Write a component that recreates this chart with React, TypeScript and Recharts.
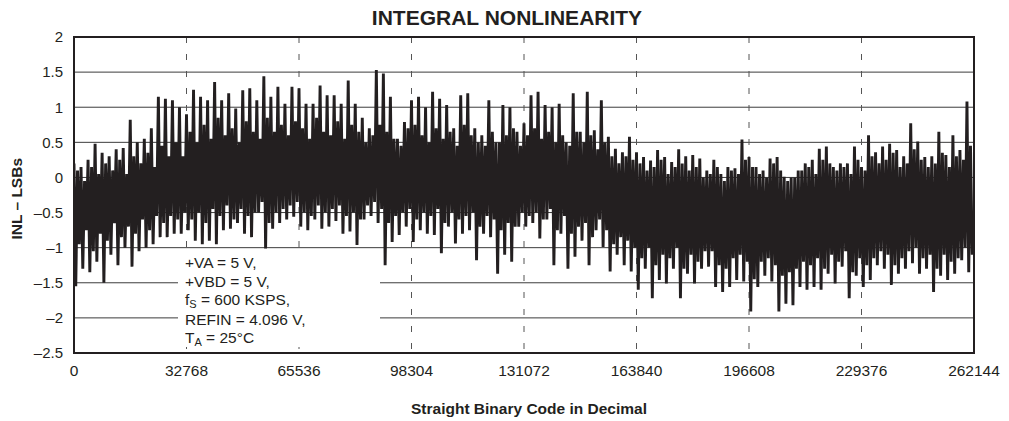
import { ComposedChart, Line, XAxis, YAxis, CartesianGrid } from "recharts";

const codeTicks = [0, 32768, 65536, 98304, 131072, 163840, 196608, 229376, 262144];
const inlTicks = [-2.5, -2, -1.5, -1, -0.5, 0, 0.5, 1, 1.5, 2];

// tallest upward / downward INL excursion in each 2048-code bin
const inlHigh = [
  0.2, 0.15, 0.25, 0.48, 0.35, 0.3, 0.4, 0.42, 0.82, 0.5, 0.55, 0.7, 1.15, 1.12, 1.1, 1.0,
  0.9, 1.25, 1.15, 1.1, 1.36, 1.1, 1.2, 0.98, 1.24, 1.27, 1.1, 1.44, 1.15, 1.29, 1.05, 1.29,
  1.27, 1.05, 1.05, 1.31, 1.17, 1.17, 1.05, 1.38, 1.05, 0.85, 0.7, 1.53, 1.48, 1.15, 0.55, 0.79,
  1.1, 1.15, 1.0, 1.22, 1.12, 1.03, 0.7, 1.17, 1.2, 0.7, 0.6, 1.1, 0.5, 1.03, 1.0, 0.65,
  0.77, 1.17, 1.22, 1.03, 1.0, 1.05, 0.5, 1.2, 0.65, 1.22, 0.67, 1.1, 0.58, 0.41, 0.36, 0.58,
  0.36, 0.29, 0.24, 0.39, 0.29, 0.22, 0.4, 0.3, 0.32, 0.27, 0.1, 0.25, 0.05, 0.15, 0.13, 0.54,
  0.29, 0.15, 0.1, 0.27, 0.29, 0.01, 0.0, 0.1, 0.2, 0.25, 0.41, 0.44, 0.15, 0.2, 0.2, 0.44,
  0.15, 0.6, 0.36, 0.44, 0.48, 0.39, 0.3, 0.77, 0.51, 0.29, 0.3, 0.65, 0.32, 0.6, 0.39, 1.08,
];
const inlLow = [
  -1.55, -1.3, -1.35, -1.2, -1.5, -1.1, -1.25, -1.0, -1.27, -1.05, -1.0, -0.95, -0.85, -0.85, -0.8, -0.8,
  -0.75, -0.9, -0.95, -0.9, -0.95, -0.75, -0.73, -0.65, -0.8, -0.85, -0.5, -1.01, -0.73, -0.65, -0.6, -0.56,
  -0.7, -0.75, -0.6, -0.73, -0.7, -0.62, -0.8, -0.77, -0.96, -0.6, -0.55, -0.65, -1.25, -0.92, -0.82, -0.7,
  -0.92, -0.75, -0.8, -0.82, -1.08, -0.7, -0.94, -0.8, -0.75, -1.18, -0.8, -0.85, -1.37, -1.1, -1.2, -0.7,
  -0.7, -0.65, -0.87, -0.6, -1.25, -0.8, -1.3, -1.13, -0.9, -1.25, -0.75, -0.99, -1.34, -1.1, -1.25, -1.34,
  -1.6, -1.3, -1.72, -1.46, -1.51, -1.3, -1.72, -1.37, -1.51, -1.3, -1.27, -1.56, -1.63, -1.56, -1.46, -1.48,
  -1.91, -1.56, -1.4, -1.48, -1.91, -1.8, -1.82, -1.56, -1.6, -1.56, -1.6, -1.37, -1.51, -1.27, -1.72, -1.4,
  -1.56, -1.46, -1.25, -1.3, -1.53, -1.37, -1.3, -1.22, -1.37, -1.3, -1.63, -1.4, -1.46, -1.37, -1.18, -1.35,
];

// smaller excursions in the same bins (edge of the solid mass of the trace)
const inlHigh2 = [
  0.1, -0.05, 0.15, 0.05, 0.2, 0.1, 0.25, 0.05, 0.3, 0.2, 0.35, 0.15, 0.45, 0.3, 0.5, 0.3,
  0.65, 0.5, 0.75, 0.55, 0.85, 0.6, 0.7, 0.5, 0.8, 0.65, 0.55, 0.85, 0.65, 0.75, 0.6, 0.8,
  0.7, 0.55, 0.85, 0.65, 0.6, 0.8, 0.55, 0.75, 0.65, 0.5, 0.6, 0.75, 0.65, 0.55, 0.45, 0.7,
  0.75, 0.6, 0.5, 0.7, 0.55, 0.65, 0.45, 0.75, 0.6, 0.5, 0.45, 0.65, 0.5, 0.6, 0.7, 0.45,
  0.6, 0.7, 0.55, 0.65, 0.5, 0.6, 0.45, 0.65, 0.5, 0.6, 0.4, 0.5, 0.3, 0.2, 0.3, 0.25,
  0.2, 0.1, 0.15, 0.25, 0.05, 0.15, 0.2, 0.1, 0.15, 0.0, 0.05, 0.15, -0.05, 0.1, 0.05, 0.25,
  0.15, 0.05, 0.0, 0.2, 0.1, -0.05, 0.0, 0.1, 0.15, 0.05, 0.25, 0.2, 0.1, 0.15, 0.05, 0.25,
  0.1, 0.3, 0.2, 0.25, 0.35, 0.15, 0.2, 0.4, 0.25, 0.15, 0.2, 0.35, 0.15, 0.3, 0.25, 0.45,
];
const inlLow2 = [
  -0.95, -0.75, -1.05, -0.8, -0.9, -0.65, -0.85, -0.7, -0.8, -0.6, -0.75, -0.55, -0.65, -0.55, -0.6, -0.5,
  -0.6, -0.5, -0.65, -0.45, -0.55, -0.4, -0.6, -0.45, -0.55, -0.5, -0.35, -0.65, -0.5, -0.45, -0.4, -0.35,
  -0.5, -0.55, -0.4, -0.5, -0.45, -0.4, -0.55, -0.5, -0.6, -0.4, -0.35, -0.45, -0.65, -0.55, -0.5, -0.45,
  -0.6, -0.5, -0.55, -0.45, -0.65, -0.5, -0.6, -0.55, -0.5, -0.7, -0.55, -0.6, -0.75, -0.65, -0.7, -0.5,
  -0.55, -0.5, -0.6, -0.45, -0.75, -0.55, -0.8, -0.7, -0.65, -0.85, -0.6, -0.75, -0.95, -0.85, -0.9, -1.0,
  -1.15, -1.0, -1.25, -1.1, -1.15, -1.0, -1.3, -1.1, -1.2, -1.05, -1.05, -1.25, -1.3, -1.15, -1.1, -1.2,
  -1.45, -1.2, -1.15, -1.25, -1.4, -1.35, -1.3, -1.2, -1.25, -1.15, -1.3, -1.1, -1.2, -1.05, -1.35, -1.15,
  -1.25, -1.15, -1.05, -1.1, -1.25, -1.15, -1.05, -1.0, -1.15, -1.1, -1.3, -1.1, -1.2, -1.15, -1.0, -1.1,
];

const BIN = 2048;

const traceRows = inlHigh.flatMap((hi, i) => [
  { code: i * BIN, inl: hi },
  { code: i * BIN + BIN / 4, inl: inlLow[i] },
  { code: i * BIN + BIN / 2, inl: inlHigh2[i] },
  { code: i * BIN + (3 * BIN) / 4, inl: inlLow2[i] },
]);

const ink = "#231f20";
const font = '"Liberation Sans", Arial, Helvetica, sans-serif';
const dash = (v: number) => String(v).replace("-", "\u2013");

export default function App() {
  return (
    <div
      style={{
        position: "absolute",
        left: 0,
        top: 0,
        width: 1009,
        height: 421,
        background: "#fff",
        fontFamily: font,
        color: ink,
        overflow: "hidden",
      }}
    >
      <ComposedChart width={1009} height={421} data={traceRows} margin={{ top: 37, right: 35, bottom: 0, left: 0 }}>
        <CartesianGrid vertical={false} stroke="#3c3c3c" strokeWidth={1} />
        <CartesianGrid horizontal={false} stroke="#555" strokeDasharray="6 11" />
        <XAxis
          type="number"
          dataKey="code"
          domain={[0, 262144]}
          ticks={codeTicks}
          interval={0}
          height={68}
          axisLine={false}
          tickLine={false}
          tickSize={6}
          tickMargin={6}
          tick={{ fill: ink, fontSize: 15.5, fontFamily: font }}
          allowDataOverflow
        />
        <YAxis
          type="number"
          domain={[-2.5, 2]}
          ticks={inlTicks}
          interval={0}
          width={74}
          axisLine={false}
          tickLine={false}
          tickSize={6}
          tickMargin={5}
          tickFormatter={dash}
          tick={{ fill: ink, fontSize: 15, fontFamily: font }}
          allowDataOverflow
        />
        <Line
          dataKey="inl"
          type="linear"
          stroke={ink}
          strokeWidth={2.9}
          strokeLinejoin="bevel"
          dot={false}
          isAnimationActive={false}
        />
      </ComposedChart>

      {/* plot frame */}
      <div
        style={{
          position: "absolute",
          left: 73,
          top: 36,
          width: 902,
          height: 318,
          border: `2px solid ${ink}`,
          boxSizing: "border-box",
          pointerEvents: "none",
        }}
      />

      {/* test conditions */}
      <div style={{ position: "absolute", left: 178, top: 256, width: 202, height: 91, background: "#fff" }}>
        <div
          style={{
            position: "absolute",
            left: 7,
            top: -1.6,
            fontSize: 15.5,
            lineHeight: "18.5px",
            whiteSpace: "nowrap",
          }}
        >
          <div>+VA = 5 V,</div>
          <div>+VBD = 5 V,</div>
          <div>
            f<span style={{ fontSize: 11, position: "relative", top: 3 }}>S</span> = 600 KSPS,
          </div>
          <div>REFIN = 4.096 V,</div>
          <div>
            T<span style={{ fontSize: 11, position: "relative", top: 3 }}>A</span> = 25°C
          </div>
        </div>
      </div>

      <div
        style={{
          position: "absolute",
          left: 307,
          top: 7.2,
          width: 400,
          textAlign: "center",
          fontSize: 21,
          lineHeight: "21px",
          fontWeight: "bold",
        }}
      >
        INTEGRAL NONLINEARITY
      </div>
      <div
        style={{
          position: "absolute",
          left: 329,
          top: 401,
          width: 400,
          textAlign: "center",
          fontSize: 15.5,
          lineHeight: "15.5px",
          fontWeight: "bold",
        }}
      >
        Straight Binary Code in Decimal
      </div>
      <div
        style={{
          position: "absolute",
          left: -83,
          top: 191.25,
          width: 200,
          textAlign: "center",
          fontSize: 15.5,
          lineHeight: "15.5px",
          fontWeight: "bold",
          transform: "rotate(-90deg)",
        }}
      >
        INL – LSBs
      </div>
    </div>
  );
}
